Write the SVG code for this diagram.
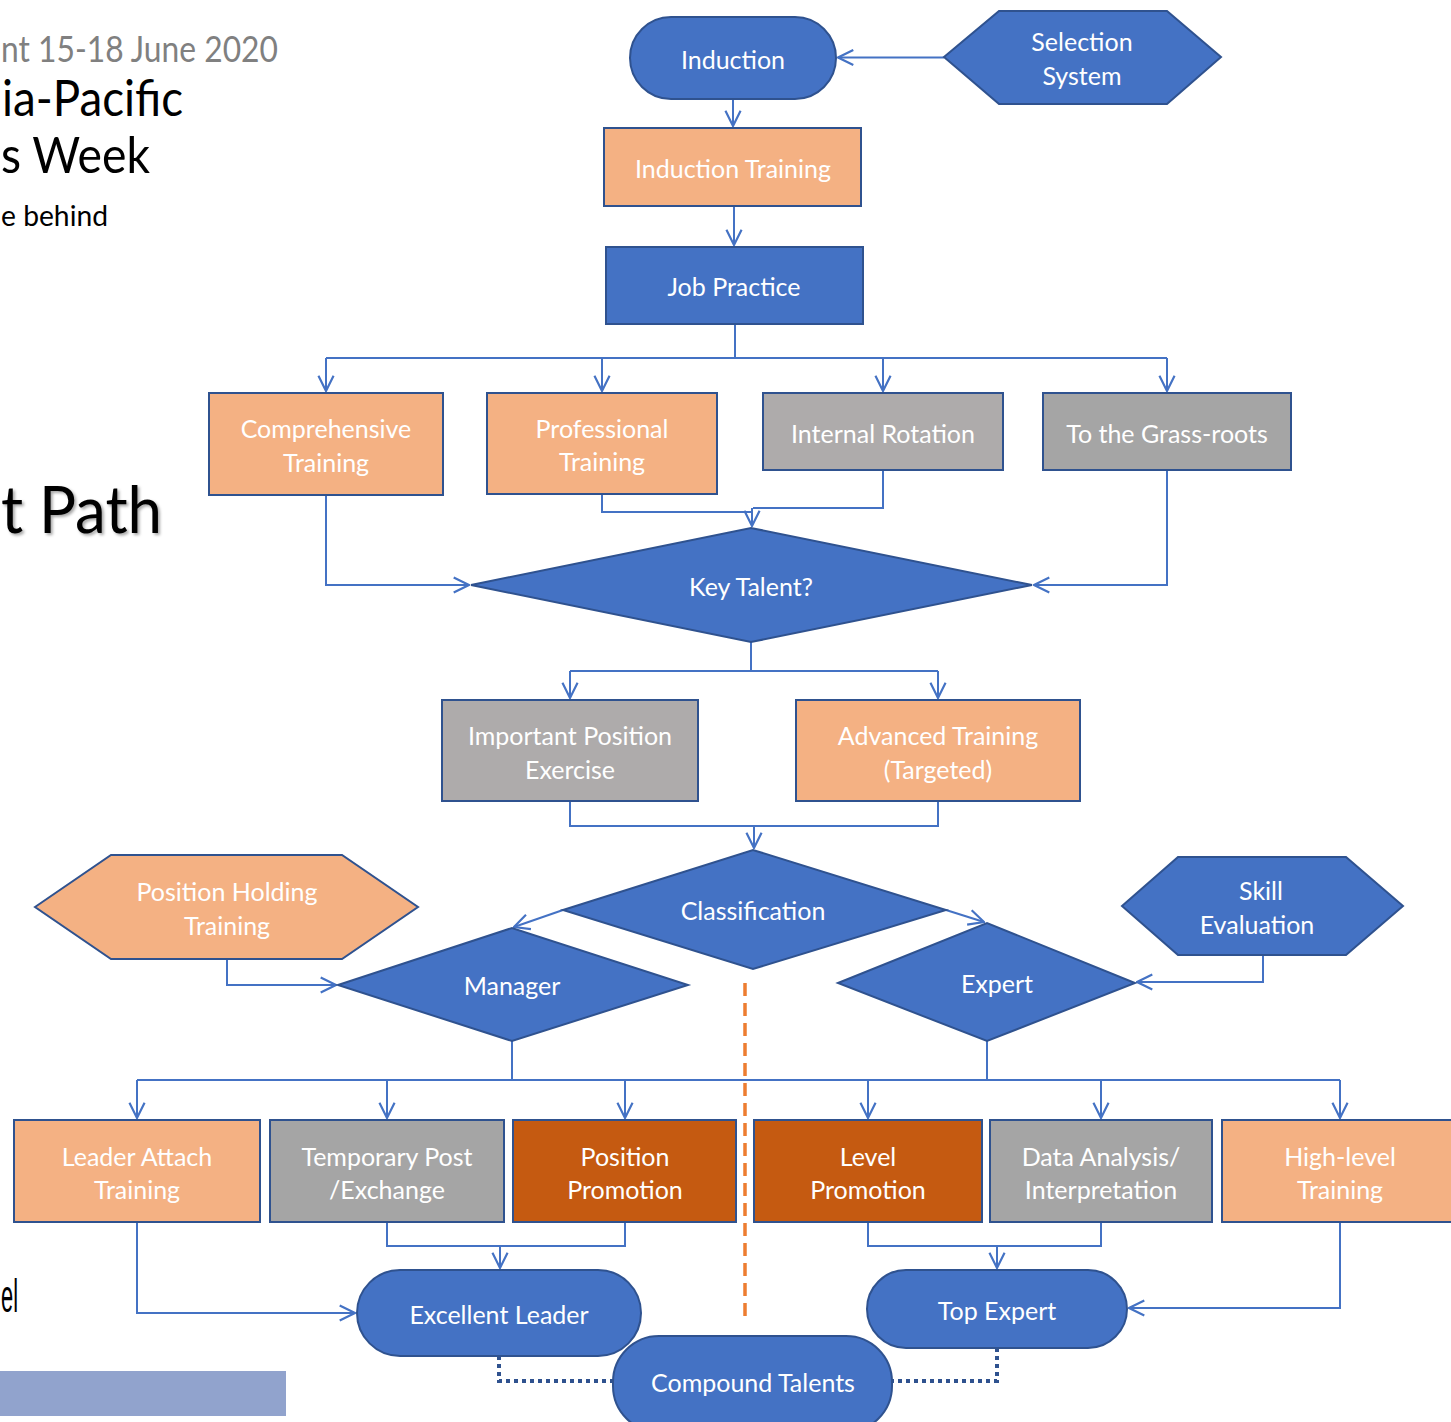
<svg xmlns="http://www.w3.org/2000/svg" width="1451" height="1422" viewBox="0 0 1451 1422">
<defs>
<marker id="arr" viewBox="0 0 10 10" refX="9.5" refY="5" markerWidth="18" markerHeight="18" markerUnits="userSpaceOnUse" orient="auto">
<path d="M1,0.8 L9.5,5 L1,9.2" fill="none" stroke="#4472C4" stroke-width="1.2"/>
</marker>
<filter id="sh" x="-10%" y="-10%" width="130%" height="130%">
<feDropShadow dx="2" dy="2" stdDeviation="1.5" flood-color="#000" flood-opacity="0.35"/>
</filter>
</defs>
<style>
.blue{fill:#4472C4;stroke:#2F528F;stroke-width:2}
.orange{fill:#F4B183;stroke:#2F528F;stroke-width:2}
.gray{fill:#A5A5A5;stroke:#2F528F;stroke-width:2}
.wgray{fill:#AEABAB;stroke:#2F528F;stroke-width:2}
.dark{fill:#C55A11;stroke:#2F528F;stroke-width:2}
.t{font-family:Lato,"Open Sans",sans-serif;font-size:25px;fill:#fff;text-anchor:middle;dominant-baseline:central}
.c{fill:none;stroke:#4472C4;stroke-width:2}
.ca{fill:none;stroke:#4472C4;stroke-width:2;marker-end:url(#arr)}
.dot{fill:none;stroke:#2F528F;stroke-width:4;stroke-dasharray:4 4}
.title{font-family:Lato,"Open Sans",sans-serif}
</style>
<rect width="1451" height="1422" fill="#fff"/>
<g id="background">
<text class="title" x="1" y="62" font-size="36" fill="#808080" textLength="277" lengthAdjust="spacingAndGlyphs">nt 15-18 June 2020</text>
<text class="title" x="2" y="116" font-size="50" fill="#000" textLength="181" lengthAdjust="spacingAndGlyphs">ia-Pacific</text>
<text class="title" x="1" y="173" font-size="50" fill="#000" textLength="149" lengthAdjust="spacingAndGlyphs">s Week</text>
<text class="title" x="1" y="226" font-size="28" fill="#000" textLength="107" lengthAdjust="spacingAndGlyphs">e behind</text>
<text class="title" x="1" y="533" font-size="66" fill="#000" filter="url(#sh)" textLength="161" lengthAdjust="spacingAndGlyphs">t Path</text>
<text x="1" y="1312" font-size="46" fill="#000" font-family="'Liberation Sans',Arial,sans-serif" textLength="17" lengthAdjust="spacingAndGlyphs">el</text>
<rect x="0" y="1371" width="286" height="45" fill="#91A3CD"/>
</g>
<g id="connectors">
<path class="ca" d="M944,57.5 H838"/>
<path class="ca" d="M733,99 V126"/>
<path class="ca" d="M734,206 V245"/>
<path class="c" d="M735,324 V358 M326,358 H1167"/>
<path class="ca" d="M326,358 V391"/>
<path class="ca" d="M602,358 V391"/>
<path class="ca" d="M883,358 V391"/>
<path class="ca" d="M1167,358 V391"/>
<path class="ca" d="M326,495 V585 H469"/>
<path class="c" d="M602,494 V512 H751"/>
<path class="c" d="M883,470 V508 H753"/>
<path class="ca" d="M752,508 V526"/>
<path class="ca" d="M1167,470 V585 H1034"/>
<path class="c" d="M751,642 V671 M570,671 H938"/>
<path class="ca" d="M570,671 V698"/>
<path class="ca" d="M938,671 V698"/>
<path class="c" d="M570,801 V826 H938 V801"/>
<path class="ca" d="M754,826 V848"/>
<path class="ca" d="M563,910 L514,927"/>
<path class="ca" d="M946,910 L984,922"/>
<path class="ca" d="M227,959 V985 H336"/>
<path class="ca" d="M1263,955 V982 H1137"/>
<path class="c" d="M512,1041 V1080 M987,1041 V1080 M137,1080 H1340"/>
<path class="ca" d="M137,1080 V1118"/>
<path class="ca" d="M387,1080 V1118"/>
<path class="ca" d="M625,1080 V1118"/>
<path class="ca" d="M868,1080 V1118"/>
<path class="ca" d="M1101,1080 V1118"/>
<path class="ca" d="M1340,1080 V1118"/>
<path class="c" d="M387,1222 V1246 H625 V1222"/>
<path class="ca" d="M500,1246 V1268"/>
<path class="c" d="M868,1222 V1246 H1101 V1222"/>
<path class="ca" d="M997,1246 V1268"/>
<path class="ca" d="M137,1222 V1313 H355"/>
<path class="ca" d="M1340,1222 V1308 H1129"/>
<path d="M745,983 V1320" fill="none" stroke="#ED7D31" stroke-width="3.5" stroke-dasharray="13 7"/>
<path class="dot" d="M499,1356 V1381 H615"/>
<path class="dot" d="M997,1348 V1381 H890"/>
</g>
<g id="induction"><rect class="blue" x="630" y="17" width="206" height="82" rx="41"/><text class="t" x="733" y="59">Induction</text></g>
<g id="selection-system"><polygon class="blue" points="944,57 999,11 1167,11 1221,57 1167,104 999,104"/><text class="t" x="1082" y="41">Selection</text><text class="t" x="1082" y="75">System</text></g>
<g id="induction-training"><rect class="orange" x="604" y="128" width="257" height="78"/><text class="t" x="733" y="168">Induction Training</text></g>
<g id="job-practice"><rect class="blue" x="606" y="247" width="257" height="77"/><text class="t" x="734" y="286">Job Practice</text></g>
<g id="comprehensive-training"><rect class="orange" x="209" y="393" width="234" height="102"/><text class="t" x="326" y="428">Comprehensive</text><text class="t" x="326" y="462">Training</text></g>
<g id="professional-training"><rect class="orange" x="487" y="393" width="230" height="101"/><text class="t" x="602" y="428">Professional</text><text class="t" x="602" y="461">Training</text></g>
<g id="internal-rotation"><rect class="wgray" x="763" y="393" width="240" height="77"/><text class="t" x="883" y="433">Internal Rotation</text></g>
<g id="grass-roots"><rect class="gray" x="1043" y="393" width="248" height="77"/><text class="t" x="1167" y="433">To the Grass-roots</text></g>
<g id="key-talent"><polygon class="blue" points="471,585 751,528 1032,585 751,642"/><text class="t" x="751" y="586">Key Talent?</text></g>
<g id="important-position"><rect class="wgray" x="442" y="700" width="256" height="101"/><text class="t" x="570" y="735">Important Position</text><text class="t" x="570" y="769">Exercise</text></g>
<g id="advanced-training"><rect class="orange" x="796" y="700" width="284" height="101"/><text class="t" x="938" y="735">Advanced Training</text><text class="t" x="938" y="769">(Targeted)</text></g>
<g id="classification"><polygon class="blue" points="563,910 753,850 946,910 753,969"/><text class="t" x="753" y="910">Classification</text></g>
<g id="position-holding"><polygon class="orange" points="35,907 111,855 342,855 418,907 342,959 111,959"/><text class="t" x="227" y="891">Position Holding</text><text class="t" x="227" y="925">Training</text></g>
<g id="skill-evaluation"><polygon class="blue" points="1122,906 1178,857 1346,857 1403,906 1346,955 1178,955"/><text class="t" x="1261" y="890">Skill</text><text class="t" x="1257" y="924">Evaluation</text></g>
<g id="manager"><polygon class="blue" points="338,985 512,928 688,985 512,1041"/><text class="t" x="512" y="985">Manager</text></g>
<g id="expert"><polygon class="blue" points="838,983 987,923 1135,983 987,1041"/><text class="t" x="997" y="983">Expert</text></g>
<g id="leader-attach"><rect class="orange" x="14" y="1120" width="246" height="102"/><text class="t" x="137" y="1156">Leader Attach</text><text class="t" x="137" y="1189">Training</text></g>
<g id="temporary-post"><rect class="gray" x="270" y="1120" width="234" height="102"/><text class="t" x="387" y="1156">Temporary Post</text><text class="t" x="387" y="1189">/Exchange</text></g>
<g id="position-promotion"><rect class="dark" x="513" y="1120" width="223" height="102"/><text class="t" x="625" y="1156">Position</text><text class="t" x="625" y="1189">Promotion</text></g>
<g id="level-promotion"><rect class="dark" x="754" y="1120" width="228" height="102"/><text class="t" x="868" y="1156">Level</text><text class="t" x="868" y="1189">Promotion</text></g>
<g id="data-analysis"><rect class="gray" x="990" y="1120" width="222" height="102"/><text class="t" x="1101" y="1156">Data Analysis/</text><text class="t" x="1101" y="1189">Interpretation</text></g>
<g id="high-level-training"><rect class="orange" x="1222" y="1120" width="240" height="102"/><text class="t" x="1340" y="1156">High-level</text><text class="t" x="1340" y="1189">Training</text></g>
<g id="excellent-leader"><rect class="blue" x="357" y="1270" width="284" height="86" rx="43"/><text class="t" x="499" y="1314">Excellent Leader</text></g>
<g id="top-expert"><rect class="blue" x="867" y="1270" width="260" height="78" rx="39"/><text class="t" x="997" y="1310">Top Expert</text></g>
<g id="compound-talents"><rect class="blue" x="613" y="1336" width="279" height="96" rx="46"/><text class="t" x="753" y="1382">Compound Talents</text></g>
</svg>
